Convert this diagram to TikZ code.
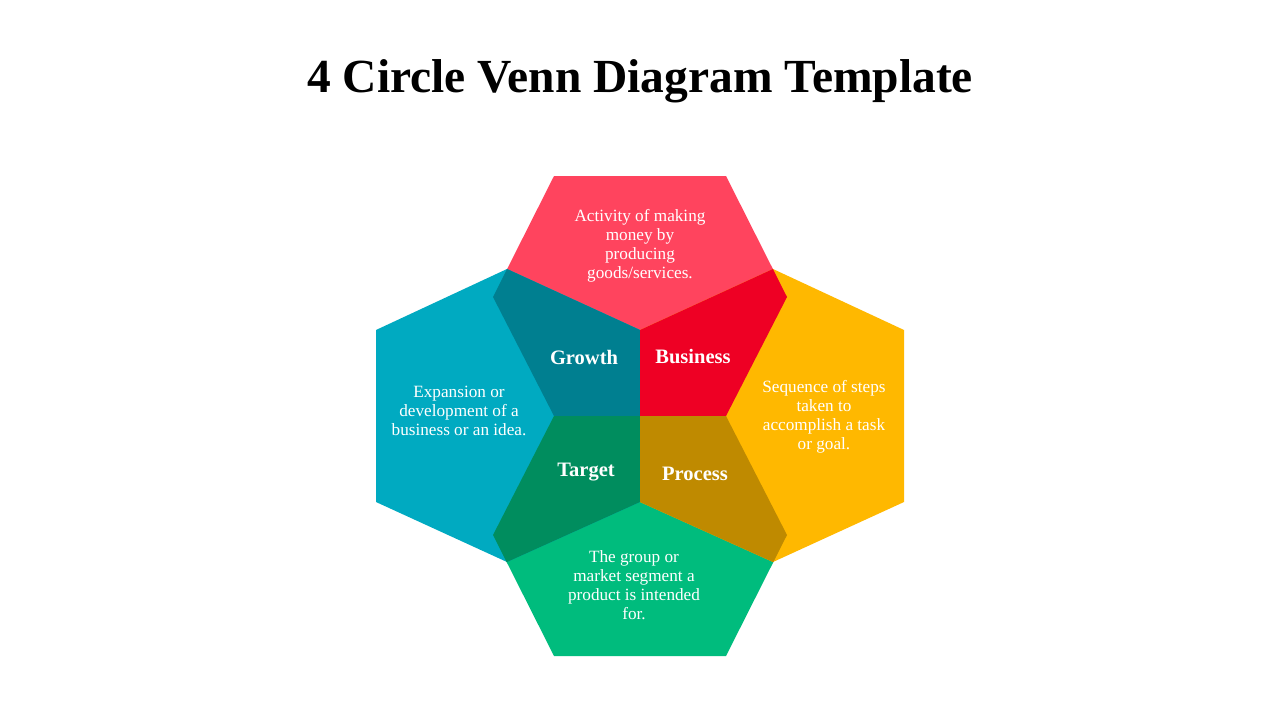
\documentclass[tikz,border=0pt]{standalone}
\usepackage{fontspec}
\setmainfont{Liberation Serif}
\definecolor{cred}{HTML}{FF445E}
\definecolor{cblue}{HTML}{00AAC1}
\definecolor{cyellow}{HTML}{FFB800}
\definecolor{cgreen}{HTML}{00BC7D}
\definecolor{cteal}{HTML}{007F90}
\definecolor{cdred}{HTML}{EE0024}
\definecolor{cgold}{HTML}{BF8A00}
\definecolor{cdgreen}{HTML}{008D5E}
\tikzset{
  body/.style={text=white, align=center, font=\fontsize{17.2}{19}\selectfont},
  lbl/.style={text=white, font=\fontsize{20.5}{22}\selectfont\bfseries},
}
\begin{document}
\begin{tikzpicture}[x=1pt,y=-1pt]
\useasboundingbox (0,0) rectangle (1280,720);
\fill[white] (0,0) rectangle (1280,720);
% red (top)
\coordinate (R1) at (554,176); \coordinate (R2) at (726,176); \coordinate (R3) at (787,297);
\coordinate (R4) at (726,416); \coordinate (R5) at (554,416); \coordinate (R6) at (493,297);
% green (bottom)
\coordinate (G1) at (554,656); \coordinate (G2) at (726,656); \coordinate (G3) at (787,535);
\coordinate (G6) at (493,535);
% blue (left)
\coordinate (B1) at (507,269); \coordinate (B2) at (640,330); \coordinate (B3) at (640,502);
\coordinate (B4) at (507,562); \coordinate (B5) at (376,502); \coordinate (B6) at (376,330);
% yellow (right)
\coordinate (Y1) at (773,269); \coordinate (Y4) at (773,562);
\coordinate (Y5) at (904,502); \coordinate (Y6) at (904,330);

\fill[cred] (R1)--(R2)--(R3)--(R4)--(R5)--(R6)--cycle;
\fill[cgreen] (G1)--(G2)--(G3)--(R4)--(R5)--(G6)--cycle;
\fill[cblue] (B1)--(B2)--(B3)--(B4)--(B5)--(B6)--cycle;
\fill[cyellow] (Y1)--(B2)--(B3)--(Y4)--(Y5)--(Y6)--cycle;

\begin{scope}
  \clip (R1)--(R2)--(R3)--(R4)--(R5)--(R6)--cycle;
  \fill[cteal] (B1)--(B2)--(B3)--(B4)--(B5)--(B6)--cycle;
  \fill[cdred] (Y1)--(B2)--(B3)--(Y4)--(Y5)--(Y6)--cycle;
\end{scope}
\begin{scope}
  \clip (G1)--(G2)--(G3)--(R4)--(R5)--(G6)--cycle;
  \fill[cdgreen] (B1)--(B2)--(B3)--(B4)--(B5)--(B6)--cycle;
  \fill[cgold] (Y1)--(B2)--(B3)--(Y4)--(Y5)--(Y6)--cycle;
\end{scope}

\node[font=\fontsize{47.5}{50}\selectfont\bfseries] (title) at (640,81) {4 Circle Venn Diagram Template};

\node[body] (tred) at (640,246) {Activity of making\\money by\\producing\\goods/services.};
\node[body] (tblue) at (459,411) {Expansion or\\development of a\\business or an idea.};
\node[body] (tyellow) at (824,417) {Sequence of steps\\taken to\\accomplish a task\\or goal.};
\node[body] (tgreen) at (634,585) {The group or\\market segment a\\product is intended\\for.};

\node[lbl] (growth) at (584,357) {Growth};
\node[lbl] (business) at (693,357) {Business};
\node[lbl] (target) at (586,472) {Target};
\node[lbl] (process) at (695,474) {Process};
\end{tikzpicture}
\end{document}
